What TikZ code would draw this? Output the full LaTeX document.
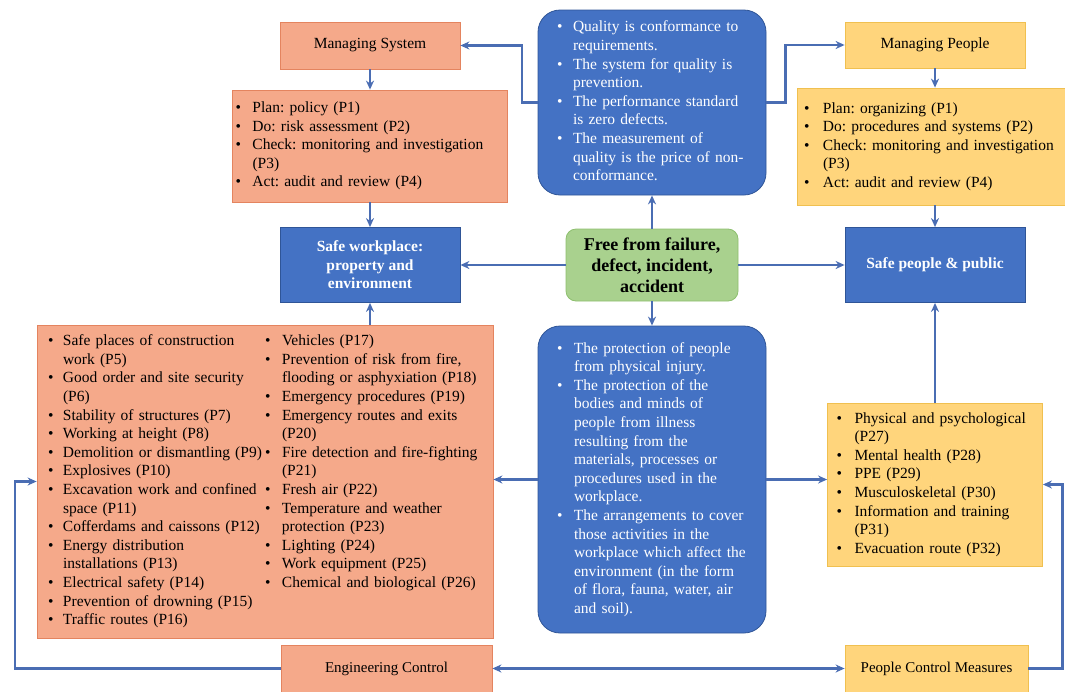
\documentclass[tikz,border=0pt]{standalone}
\usepackage{fontspec}
\setmainfont{Liberation Serif}
\usetikzlibrary{arrows.meta, positioning}
\frenchspacing

\definecolor{peach}{HTML}{F5A98A}
\definecolor{peachline}{HTML}{E4845F}
\definecolor{sand}{HTML}{FFD57C}
\definecolor{sandline}{HTML}{F0C050}
\definecolor{oblue}{HTML}{4472C4}
\definecolor{obluedark}{HTML}{2F5597}
\definecolor{sage}{HTML}{A9D18E}
\definecolor{sageline}{HTML}{8DBF6E}
\definecolor{linkblue}{HTML}{4A6DB3}

\newcommand{\bodyfont}{\fontsize{15.5}{18.6}\selectfont}
\newcommand{\basefont}{\fontsize{15}{18}\selectfont}
\newcommand{\bu}{\textbullet}

\begin{document}
\begin{tikzpicture}[x=1pt, y=-1pt, >={Stealth[length=9pt, width=8pt]},
    orangebox/.style={draw=peachline, fill=peach, thick},
    yellowbox/.style={draw=sandline, fill=sand, thick},
    bluebox/.style={draw=obluedark, fill=oblue, text=white, thick},
    listbox/.style={rectangle, font=\bodyfont, align=left},
    titlebox/.style={rectangle, font=\bodyfont, align=center},
    conn/.style={->, draw=linkblue, line width=2.2pt},
]
    \useasboundingbox (0,0) rectangle (1065,691);

    % Top row: managing boxes and quality statement
    \node[titlebox, orangebox, minimum width=180pt, minimum height=47pt] (msys) at (370,45.5) {Managing System};
    \node[titlebox, yellowbox, minimum width=180pt, minimum height=46pt] (mpeo) at (935,45) {Managing People};

    \node[listbox, orangebox, text width=269pt, inner xsep=3pt, minimum height=112pt] (syslist) at (370,146) {%
      \begin{tabular}{@{}p{17pt}@{}l@{}}
        \bu & Plan: policy (P1)\\
        \bu & Do: risk assessment (P2)\\
        \bu & Check: monitoring and investigation\\
            & (P3)\\
        \bu & Act: audit and review (P4)
      \end{tabular}};

    \node[listbox, yellowbox, text width=256pt, inner xsep=7pt, minimum height=117pt] (peolist) at (932,146.5) {%
      \begin{tabular}{@{}p{19pt}@{}l@{}}
        \bu & Plan: organizing (P1)\\
        \bu & Do: procedures and systems (P2)\\
        \bu & Check: monitoring and investigation\\
            & (P3)\\
        \bu & Act: audit and review (P4)
      \end{tabular}};

    \node[listbox, bluebox, rounded corners=22pt, text width=190pt, inner xsep=19pt, minimum height=185pt] (qual) at (652,102.5) {%
      \begin{tabular}{@{}p{16pt}@{}l@{}}
        \bu & Quality is conformance to\\
            & requirements.\\
        \bu & The system for quality is\\
            & prevention.\\
        \bu & The performance standard\\
            & is zero defects.\\
        \bu & The measurement of\\
            & quality is the price of non-\\
            & conformance.
      \end{tabular}};

    % Middle row
    \node[titlebox, bluebox, font=\bodyfont\bfseries, minimum width=180pt, minimum height=75pt] (safeplace) at (370,265) {Safe workplace:\\property and\\environment};
    \node[titlebox, draw=sageline, fill=sage, thick, rounded corners=10pt, font=\fontsize{18}{21}\selectfont\bfseries, minimum width=172pt, minimum height=72pt] (core) at (652,265) {Free from failure,\\defect, incident,\\accident};
    \node[titlebox, bluebox, font=\bodyfont\bfseries, minimum width=180pt, minimum height=75pt] (safepeople) at (935,265) {Safe people \& public};

    % Lower row: control lists and protection statement
    \node[listbox, orangebox, text width=434pt, inner xsep=11pt, minimum height=313pt] (hazards) at (265,481.5) {%
      \begin{tabular}{@{}p{15pt}@{}p{202pt}@{}p{17pt}@{}l@{}}
        \bu & Safe places of construction   & \bu & Vehicles (P17)\\
            & work (P5)                     & \bu & Prevention of risk from fire,\\
        \bu & Good order and site security  &     & flooding or asphyxiation (P18)\\
            & (P6)                          & \bu & Emergency procedures (P19)\\
        \bu & Stability of structures (P7)  & \bu & Emergency routes and exits\\
        \bu & Working at height (P8)        &     & (P20)\\
        \bu & Demolition or dismantling (P9)& \bu & Fire detection and fire-fighting\\
        \bu & Explosives (P10)              &     & (P21)\\
        \bu & Excavation work and confined  & \bu & Fresh air (P22)\\
            & space (P11)                   & \bu & Temperature and weather\\
        \bu & Cofferdams and caissons (P12) &     & protection (P23)\\
        \bu & Energy distribution           & \bu & Lighting (P24)\\
            & installations (P13)           & \bu & Work equipment (P25)\\
        \bu & Electrical safety (P14)       & \bu & Chemical and biological (P26)\\
        \bu & Prevention of drowning (P15)  &     & \\
        \bu & Traffic routes (P16)          &     &
      \end{tabular}};

    \node[listbox, bluebox, rounded corners=22pt, text width=190pt, inner xsep=19pt, minimum height=307pt] (protect) at (652,479.5) {%
      \begin{tabular}{@{}p{17pt}@{}l@{}}
        \bu & The protection of people\\
            & from physical injury.\\
        \bu & The protection of the\\
            & bodies and minds of\\
            & people from illness\\
            & resulting from the\\
            & materials, processes or\\
            & procedures used in the\\
            & workplace.\\
        \bu & The arrangements to cover\\
            & those activities in the\\
            & workplace which affect the\\
            & environment (in the form\\
            & of flora, fauna, water, air\\
            & and soil).
      \end{tabular}};

    \node[listbox, yellowbox, text width=197pt, inner xsep=9pt, minimum height=163pt] (health) at (935,484.5) {%
      \begin{tabular}{@{}p{18pt}@{}l@{}}
        \bu & Physical and psychological\\
            & (P27)\\
        \bu & Mental health (P28)\\
        \bu & PPE (P29)\\
        \bu & Musculoskeletal (P30)\\
        \bu & Information and training\\
            & (P31)\\
        \bu & Evacuation route (P32)
      \end{tabular}};

    % Bottom row
    \node[titlebox, orangebox, font=\basefont, minimum width=211pt, minimum height=47pt] (eng) at (386.5,668.5) {Engineering Control};
    \node[titlebox, yellowbox, font=\basefont, minimum width=183pt, minimum height=47pt] (pcm) at (936.5,668.5) {People Control Measures};

    % Draw the links from the centre
    \draw[conn] (core) -- (qual);
    \draw[conn] (core) -- (safeplace);
    \draw[conn] (core) -- (safepeople);
    \draw[conn] (core) -- (protect);

    % Draw the top links
    \draw[conn] (qual.west) -- ++(-16,0) |- (msys.east);
    \draw[conn] (qual.east) -- ++(19,0) |- (mpeo.west);
    \draw[conn] (msys) -- (syslist);
    \draw[conn] (syslist) -- (safeplace);
    \draw[conn] (mpeo.south) -- (mpeo.south |- peolist.north);
    \draw[conn] (peolist.south -| safepeople.north) -- (safepeople.north);

    % Draw the lower links
    \draw[conn] (hazards.north -| safeplace.south) -- (safeplace.south);
    \draw[conn] (health) -- (safepeople);
    \draw[conn] (protect.west) -- (protect.west -| hazards.east);
    \draw[conn] (protect.east) -- (protect.east -| health.west);
    \draw[conn] (eng.west) -- ++(-266,0) |- (hazards.west);
    \draw[conn] (pcm.east) -- ++(34,0) |- (health.east);
    \draw[conn, <->] (eng) -- (pcm);

\end{tikzpicture}
\end{document}
